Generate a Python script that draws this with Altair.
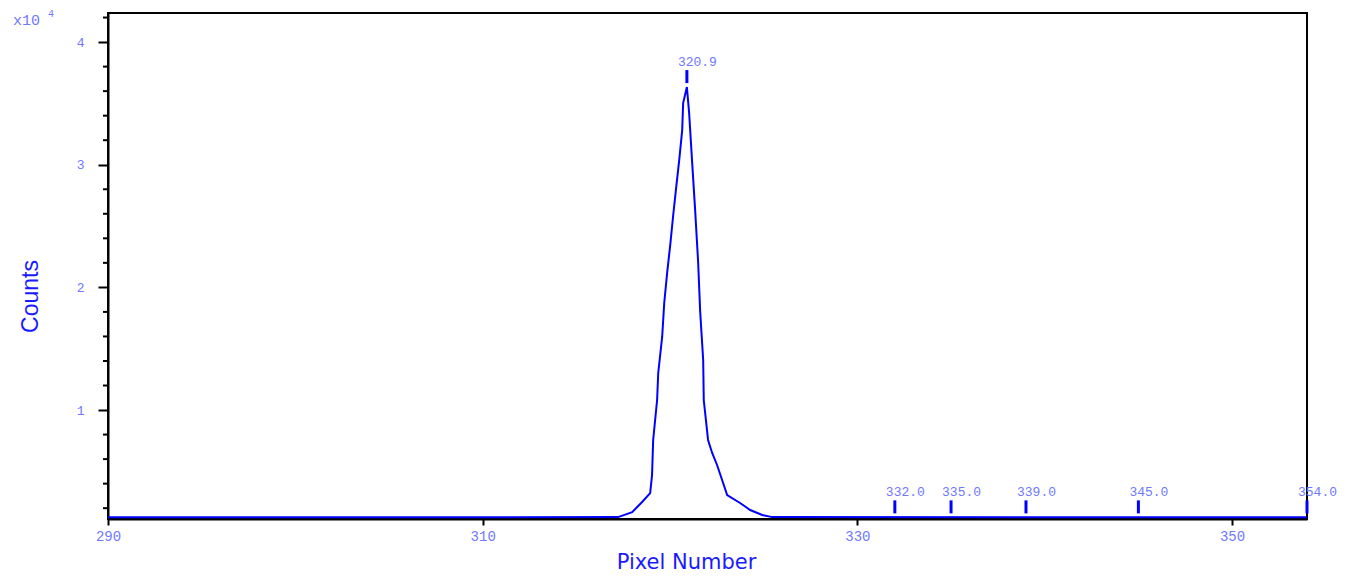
import altair as alt
import pandas as pd

# ---- data ----
pixel = [290.0, 317.23, 317.98, 318.51, 318.94, 319.04, 319.10, 319.31, 319.37, 319.58,
         319.69, 319.85, 320.01, 320.17, 320.33, 320.49, 320.65, 320.70, 320.90, 321.02,
         321.18, 321.34, 321.50, 321.61, 321.77, 321.80, 322.03, 322.25, 322.51, 322.78,
         323.05, 323.74, 324.28, 324.92, 325.45, 354.0]
counts = [1250, 1270, 1680, 2500, 3230, 4700, 7560, 10820, 13020, 15960,
          18730, 21250, 23450, 25900, 28180, 30380, 32830, 35030, 36330, 34210,
          30210, 26300, 22060, 17990, 14070, 10820, 7560, 6500, 5520, 4300,
          3070, 2420, 1850, 1440, 1270, 1250]

marker_pos = [320.9, 332.0, 335.0, 339.0, 345.0, 354.0]
marker_base = [36330, 1250, 1250, 1250, 1250, 1250]
marker_text = ["320.9", "332.0", "335.0", "339.0", "345.0", "354.0"]

x_ticks = [290, 310, 330, 350]
y_major = [10000, 20000, 30000, 40000]
y_minor = [v for v in range(2000, 42001, 2000) if v % 10000 != 0]
exp_text = ["x10"]
exp_sup = ["4"]

BLUE = "#0000ff"
TITLE_BLUE = "#1a1aff"
LIGHT = "#6f78ff"

df = pd.DataFrame({"pixel": pixel, "counts": counts})
mk = pd.DataFrame({"pos": marker_pos, "base": marker_base, "label": marker_text})
minor_df = pd.DataFrame({"v": y_minor})

xs = alt.Scale(domain=[290, 354], nice=False, zero=False)
ys = alt.Scale(domain=[1117, 42370], nice=False, zero=False)

x_axis = alt.Axis(
    values=x_ticks, title="Pixel Number", grid=False, labelFlush=False,
    tickSize=6, labelPadding=4, labelFont="Liberation Mono", labelFontSize=14,
    labelColor=LIGHT, labelBaseline="top", labelOverlap=False,
    titleFont="DejaVu Sans", titleFontSize=21, titleFontWeight="normal",
    titleColor=TITLE_BLUE, titleX=578, titleY=43, titleAlign="center",
    titleBaseline="middle", titleAnchor="start",
)
y_axis = alt.Axis(
    values=y_major, title="Counts", grid=False, labelOverlap=False, labelFlush=False,
    labelExpr="'' + (datum.value / 10000)",
    tickSize=10, labelPadding=14, labelFont="Liberation Mono", labelFontSize=13,
    labelColor=LIGHT, labelBaseline="middle",
    titleFont="Liberation Sans", titleFontSize=23, titleFontWeight="normal",
    titleColor=TITLE_BLUE, titleX=-78, titleY=283, titleAngle=270,
    titleAlign="center", titleBaseline="middle", titleAnchor="start",
)

line = alt.Chart(df).mark_line(color=BLUE, strokeWidth=2).encode(
    x=alt.X("pixel:Q", scale=xs, axis=x_axis),
    y=alt.Y("counts:Q", scale=ys, axis=y_axis),
)

minor = alt.Chart(minor_df).mark_rule(color="black", strokeWidth=2).encode(
    y=alt.Y("v:Q", scale=ys),
    x=alt.value(-5),
    x2=alt.value(0),
)

rules = alt.Chart(mk).mark_rule(color=BLUE, strokeWidth=3, yOffset=-4, y2Offset=-17).encode(
    x=alt.X("pos:Q", scale=xs),
    y=alt.Y("base:Q", scale=ys),
    y2="base:Q",
)

labels = alt.Chart(mk).mark_text(
    align="left", baseline="middle", dx=-9, dy=-25,
    font="Liberation Mono", fontSize=13, color=LIGHT,
).encode(
    x=alt.X("pos:Q", scale=xs),
    y=alt.Y("base:Q", scale=ys),
    text="label:N",
)

exp1 = alt.Chart(pd.DataFrame({"t": exp_text})).mark_text(
    align="left", baseline="middle", font="Liberation Mono", fontSize=15, color=LIGHT,
).encode(x=alt.value(-95), y=alt.value(7), text="t:N")
exp2 = alt.Chart(pd.DataFrame({"t": exp_sup})).mark_text(
    align="left", baseline="middle", font="Liberation Mono", fontSize=10, color=LIGHT,
).encode(x=alt.value(-60), y=alt.value(1), text="t:N")

chart = alt.layer(line, minor, rules, labels, exp1, exp2).properties(
    width=1199, height=506,
    autosize=alt.AutoSizeParams(type="none"),
    padding={"left": 108, "top": 13, "right": 43, "bottom": 58},
).configure_view(
    stroke="black", strokeWidth=2
).configure_axis(
    domainColor="black", domainWidth=2, tickColor="black", tickWidth=2,
)

chart.save("out.html", embed_options={"renderer": "svg", "actions": False})
